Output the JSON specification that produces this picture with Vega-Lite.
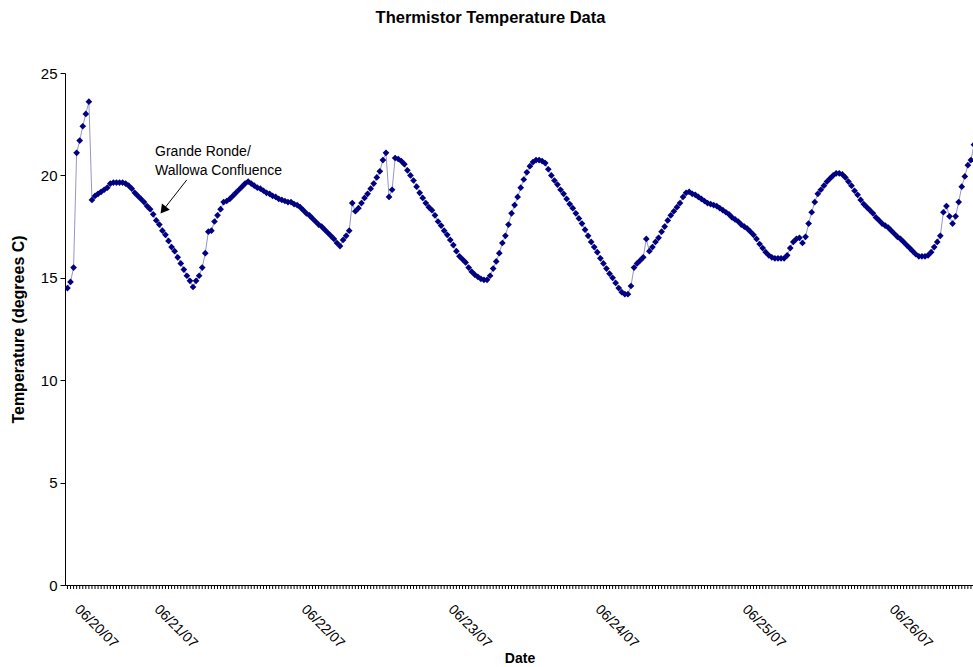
{
  "$schema": "https://vega.github.io/schema/vega-lite/v6.json",
  "width": 909,
  "height": 512,
  "autosize": {"type": "none"},
  "padding": {"left": 65, "top": 73, "right": 0, "bottom": 82},
  "background": "white",
  "config": {"view": {"stroke": null}, "font": "Liberation Sans"},
  "title": {"text": "Thermistor Temperature Data", "fontSize": 16.5, "fontWeight": "bold", "font": "Liberation Sans", "color": "black", "anchor": "middle", "dx": -29, "offset": 40},
  "datasets": {
    "temps": [
      {"t":"2007-06-20T11:00","v":14.5},{"t":"2007-06-20T11:30","v":14.8},{"t":"2007-06-20T12:00","v":15.5},{"t":"2007-06-20T12:30","v":21.1},{"t":"2007-06-20T13:00","v":21.7},{"t":"2007-06-20T13:30","v":22.4},{"t":"2007-06-20T14:00","v":23.0},{"t":"2007-06-20T14:30","v":23.6},{"t":"2007-06-20T15:00","v":18.8},{"t":"2007-06-20T15:30","v":19.0},{"t":"2007-06-20T16:00","v":19.1},{"t":"2007-06-20T16:30","v":19.2},{"t":"2007-06-20T17:00","v":19.3},{"t":"2007-06-20T17:30","v":19.4},{"t":"2007-06-20T18:00","v":19.6},{"t":"2007-06-20T18:30","v":19.65},{"t":"2007-06-20T19:00","v":19.65},{"t":"2007-06-20T19:30","v":19.65},{"t":"2007-06-20T20:00","v":19.65},{"t":"2007-06-20T20:30","v":19.6},{"t":"2007-06-20T21:00","v":19.5},{"t":"2007-06-20T21:30","v":19.35},{"t":"2007-06-20T22:00","v":19.15},{"t":"2007-06-20T22:30","v":19.0},{"t":"2007-06-20T23:00","v":18.85},{"t":"2007-06-20T23:30","v":18.7},
      {"t":"2007-06-21T00:00","v":18.5},{"t":"2007-06-21T00:30","v":18.35},{"t":"2007-06-21T01:00","v":18.1},{"t":"2007-06-21T01:30","v":17.8},{"t":"2007-06-21T02:00","v":17.6},{"t":"2007-06-21T02:30","v":17.3},{"t":"2007-06-21T03:00","v":17.1},{"t":"2007-06-21T03:30","v":16.8},{"t":"2007-06-21T04:00","v":16.5},{"t":"2007-06-21T04:30","v":16.3},{"t":"2007-06-21T05:00","v":16.0},{"t":"2007-06-21T05:30","v":15.7},{"t":"2007-06-21T06:00","v":15.4},{"t":"2007-06-21T06:30","v":15.1},{"t":"2007-06-21T07:00","v":14.85},{"t":"2007-06-21T07:30","v":14.55},{"t":"2007-06-21T08:00","v":14.85},{"t":"2007-06-21T08:30","v":15.1},{"t":"2007-06-21T09:00","v":15.5},{"t":"2007-06-21T09:30","v":16.2},{"t":"2007-06-21T10:00","v":17.25},{"t":"2007-06-21T10:30","v":17.3},{"t":"2007-06-21T11:00","v":17.75},{"t":"2007-06-21T11:30","v":18.05},{"t":"2007-06-21T12:00","v":18.35},{"t":"2007-06-21T12:30","v":18.7},{"t":"2007-06-21T13:00","v":18.75},{"t":"2007-06-21T13:30","v":18.85},{"t":"2007-06-21T14:00","v":19.0},{"t":"2007-06-21T14:30","v":19.15},{"t":"2007-06-21T15:00","v":19.3},{"t":"2007-06-21T15:30","v":19.45},{"t":"2007-06-21T16:00","v":19.6},{"t":"2007-06-21T16:30","v":19.7},{"t":"2007-06-21T17:00","v":19.6},{"t":"2007-06-21T17:30","v":19.5},{"t":"2007-06-21T18:00","v":19.4},{"t":"2007-06-21T18:30","v":19.35},{"t":"2007-06-21T19:00","v":19.25},{"t":"2007-06-21T19:30","v":19.15},{"t":"2007-06-21T20:00","v":19.1},{"t":"2007-06-21T20:30","v":19.0},{"t":"2007-06-21T21:00","v":18.95},{"t":"2007-06-21T21:30","v":18.85},{"t":"2007-06-21T22:00","v":18.8},{"t":"2007-06-21T22:30","v":18.75},{"t":"2007-06-21T23:00","v":18.7},{"t":"2007-06-21T23:30","v":18.7},
      {"t":"2007-06-22T00:00","v":18.6},{"t":"2007-06-22T00:30","v":18.55},{"t":"2007-06-22T01:00","v":18.45},{"t":"2007-06-22T01:30","v":18.3},{"t":"2007-06-22T02:00","v":18.15},{"t":"2007-06-22T02:30","v":18.05},{"t":"2007-06-22T03:00","v":17.9},{"t":"2007-06-22T03:30","v":17.75},{"t":"2007-06-22T04:00","v":17.6},{"t":"2007-06-22T04:30","v":17.5},{"t":"2007-06-22T05:00","v":17.35},{"t":"2007-06-22T05:30","v":17.2},{"t":"2007-06-22T06:00","v":17.05},{"t":"2007-06-22T06:30","v":16.9},{"t":"2007-06-22T07:00","v":16.7},{"t":"2007-06-22T07:30","v":16.55},{"t":"2007-06-22T08:00","v":16.85},{"t":"2007-06-22T08:30","v":17.05},{"t":"2007-06-22T09:00","v":17.3},{"t":"2007-06-22T09:30","v":18.65},{"t":"2007-06-22T10:00","v":18.25},{"t":"2007-06-22T10:30","v":18.4},{"t":"2007-06-22T11:00","v":18.65},{"t":"2007-06-22T11:30","v":18.9},{"t":"2007-06-22T12:00","v":19.1},{"t":"2007-06-22T12:30","v":19.35},{"t":"2007-06-22T13:00","v":19.6},{"t":"2007-06-22T13:30","v":19.9},{"t":"2007-06-22T14:00","v":20.2},{"t":"2007-06-22T14:30","v":20.75},{"t":"2007-06-22T15:00","v":21.1},{"t":"2007-06-22T15:30","v":18.95},{"t":"2007-06-22T16:00","v":19.3},{"t":"2007-06-22T16:30","v":20.85},{"t":"2007-06-22T17:00","v":20.8},{"t":"2007-06-22T17:30","v":20.7},{"t":"2007-06-22T18:00","v":20.55},{"t":"2007-06-22T18:30","v":20.25},{"t":"2007-06-22T19:00","v":20.0},{"t":"2007-06-22T19:30","v":19.75},{"t":"2007-06-22T20:00","v":19.45},{"t":"2007-06-22T20:30","v":19.15},{"t":"2007-06-22T21:00","v":18.9},{"t":"2007-06-22T21:30","v":18.65},{"t":"2007-06-22T22:00","v":18.45},{"t":"2007-06-22T22:30","v":18.3},{"t":"2007-06-22T23:00","v":18.05},{"t":"2007-06-22T23:30","v":17.75},
      {"t":"2007-06-23T00:00","v":17.55},{"t":"2007-06-23T00:30","v":17.3},{"t":"2007-06-23T01:00","v":17.1},{"t":"2007-06-23T01:30","v":16.85},{"t":"2007-06-23T02:00","v":16.6},{"t":"2007-06-23T02:30","v":16.3},{"t":"2007-06-23T03:00","v":16.05},{"t":"2007-06-23T03:30","v":15.9},{"t":"2007-06-23T04:00","v":15.75},{"t":"2007-06-23T04:30","v":15.5},{"t":"2007-06-23T05:00","v":15.3},{"t":"2007-06-23T05:30","v":15.15},{"t":"2007-06-23T06:00","v":15.05},{"t":"2007-06-23T06:30","v":14.95},{"t":"2007-06-23T07:00","v":14.9},{"t":"2007-06-23T07:30","v":14.9},{"t":"2007-06-23T08:00","v":15.1},{"t":"2007-06-23T08:30","v":15.45},{"t":"2007-06-23T09:00","v":15.8},{"t":"2007-06-23T09:30","v":16.2},{"t":"2007-06-23T10:00","v":16.7},{"t":"2007-06-23T10:30","v":17.05},{"t":"2007-06-23T11:00","v":17.6},{"t":"2007-06-23T11:30","v":18.15},{"t":"2007-06-23T12:00","v":18.55},{"t":"2007-06-23T12:30","v":18.95},{"t":"2007-06-23T13:00","v":19.4},{"t":"2007-06-23T13:30","v":19.8},{"t":"2007-06-23T14:00","v":20.15},{"t":"2007-06-23T14:30","v":20.45},{"t":"2007-06-23T15:00","v":20.65},{"t":"2007-06-23T15:30","v":20.75},{"t":"2007-06-23T16:00","v":20.75},{"t":"2007-06-23T16:30","v":20.7},{"t":"2007-06-23T17:00","v":20.6},{"t":"2007-06-23T17:30","v":20.3},{"t":"2007-06-23T18:00","v":20.0},{"t":"2007-06-23T18:30","v":19.75},{"t":"2007-06-23T19:00","v":19.55},{"t":"2007-06-23T19:30","v":19.3},{"t":"2007-06-23T20:00","v":19.1},{"t":"2007-06-23T20:30","v":18.85},{"t":"2007-06-23T21:00","v":18.6},{"t":"2007-06-23T21:30","v":18.4},{"t":"2007-06-23T22:00","v":18.15},{"t":"2007-06-23T22:30","v":17.9},{"t":"2007-06-23T23:00","v":17.65},{"t":"2007-06-23T23:30","v":17.35},
      {"t":"2007-06-24T00:00","v":17.05},{"t":"2007-06-24T00:30","v":16.75},{"t":"2007-06-24T01:00","v":16.5},{"t":"2007-06-24T01:30","v":16.25},{"t":"2007-06-24T02:00","v":15.95},{"t":"2007-06-24T02:30","v":15.7},{"t":"2007-06-24T03:00","v":15.45},{"t":"2007-06-24T03:30","v":15.2},{"t":"2007-06-24T04:00","v":15.0},{"t":"2007-06-24T04:30","v":14.75},{"t":"2007-06-24T05:00","v":14.5},{"t":"2007-06-24T05:30","v":14.3},{"t":"2007-06-24T06:00","v":14.2},{"t":"2007-06-24T06:30","v":14.2},{"t":"2007-06-24T07:00","v":14.6},{"t":"2007-06-24T07:30","v":15.5},{"t":"2007-06-24T08:00","v":15.7},{"t":"2007-06-24T08:30","v":15.85},{"t":"2007-06-24T09:00","v":16.0},{"t":"2007-06-24T09:30","v":16.9},{"t":"2007-06-24T10:00","v":16.3},{"t":"2007-06-24T10:30","v":16.5},{"t":"2007-06-24T11:00","v":16.75},{"t":"2007-06-24T11:30","v":16.95},{"t":"2007-06-24T12:00","v":17.25},{"t":"2007-06-24T12:30","v":17.5},{"t":"2007-06-24T13:00","v":17.8},{"t":"2007-06-24T13:30","v":18.05},{"t":"2007-06-24T14:00","v":18.25},{"t":"2007-06-24T14:30","v":18.45},{"t":"2007-06-24T15:00","v":18.65},{"t":"2007-06-24T15:30","v":18.95},{"t":"2007-06-24T16:00","v":19.15},{"t":"2007-06-24T16:30","v":19.2},{"t":"2007-06-24T17:00","v":19.1},{"t":"2007-06-24T17:30","v":19.05},{"t":"2007-06-24T18:00","v":18.95},{"t":"2007-06-24T18:30","v":18.85},{"t":"2007-06-24T19:00","v":18.75},{"t":"2007-06-24T19:30","v":18.65},{"t":"2007-06-24T20:00","v":18.6},{"t":"2007-06-24T20:30","v":18.55},{"t":"2007-06-24T21:00","v":18.5},{"t":"2007-06-24T21:30","v":18.4},{"t":"2007-06-24T22:00","v":18.3},{"t":"2007-06-24T22:30","v":18.2},{"t":"2007-06-24T23:00","v":18.1},{"t":"2007-06-24T23:30","v":17.95},
      {"t":"2007-06-25T00:00","v":17.85},{"t":"2007-06-25T00:30","v":17.75},{"t":"2007-06-25T01:00","v":17.6},{"t":"2007-06-25T01:30","v":17.5},{"t":"2007-06-25T02:00","v":17.4},{"t":"2007-06-25T02:30","v":17.25},{"t":"2007-06-25T03:00","v":17.1},{"t":"2007-06-25T03:30","v":16.9},{"t":"2007-06-25T04:00","v":16.65},{"t":"2007-06-25T04:30","v":16.45},{"t":"2007-06-25T05:00","v":16.25},{"t":"2007-06-25T05:30","v":16.1},{"t":"2007-06-25T06:00","v":16.0},{"t":"2007-06-25T06:30","v":15.95},{"t":"2007-06-25T07:00","v":15.95},{"t":"2007-06-25T07:30","v":15.95},{"t":"2007-06-25T08:00","v":15.95},{"t":"2007-06-25T08:30","v":16.1},{"t":"2007-06-25T09:00","v":16.45},{"t":"2007-06-25T09:30","v":16.75},{"t":"2007-06-25T10:00","v":16.9},{"t":"2007-06-25T10:30","v":16.95},{"t":"2007-06-25T11:00","v":16.7},{"t":"2007-06-25T11:30","v":17.0},{"t":"2007-06-25T12:00","v":17.65},{"t":"2007-06-25T12:30","v":18.2},{"t":"2007-06-25T13:00","v":18.7},{"t":"2007-06-25T13:30","v":19.1},{"t":"2007-06-25T14:00","v":19.3},{"t":"2007-06-25T14:30","v":19.5},{"t":"2007-06-25T15:00","v":19.7},{"t":"2007-06-25T15:30","v":19.85},{"t":"2007-06-25T16:00","v":20.0},{"t":"2007-06-25T16:30","v":20.1},{"t":"2007-06-25T17:00","v":20.1},{"t":"2007-06-25T17:30","v":20.05},{"t":"2007-06-25T18:00","v":19.9},{"t":"2007-06-25T18:30","v":19.7},{"t":"2007-06-25T19:00","v":19.5},{"t":"2007-06-25T19:30","v":19.25},{"t":"2007-06-25T20:00","v":19.05},{"t":"2007-06-25T20:30","v":18.8},{"t":"2007-06-25T21:00","v":18.6},{"t":"2007-06-25T21:30","v":18.45},{"t":"2007-06-25T22:00","v":18.3},{"t":"2007-06-25T22:30","v":18.15},{"t":"2007-06-25T23:00","v":17.95},{"t":"2007-06-25T23:30","v":17.8},
      {"t":"2007-06-26T00:00","v":17.65},{"t":"2007-06-26T00:30","v":17.55},{"t":"2007-06-26T01:00","v":17.45},{"t":"2007-06-26T01:30","v":17.3},{"t":"2007-06-26T02:00","v":17.15},{"t":"2007-06-26T02:30","v":17.0},{"t":"2007-06-26T03:00","v":16.9},{"t":"2007-06-26T03:30","v":16.75},{"t":"2007-06-26T04:00","v":16.6},{"t":"2007-06-26T04:30","v":16.45},{"t":"2007-06-26T05:00","v":16.3},{"t":"2007-06-26T05:30","v":16.15},{"t":"2007-06-26T06:00","v":16.05},{"t":"2007-06-26T06:30","v":16.05},{"t":"2007-06-26T07:00","v":16.05},{"t":"2007-06-26T07:30","v":16.1},{"t":"2007-06-26T08:00","v":16.25},{"t":"2007-06-26T08:30","v":16.5},{"t":"2007-06-26T09:00","v":16.75},{"t":"2007-06-26T09:30","v":17.05},{"t":"2007-06-26T10:00","v":18.2},{"t":"2007-06-26T10:30","v":18.5},{"t":"2007-06-26T11:00","v":18.0},{"t":"2007-06-26T11:30","v":17.65},{"t":"2007-06-26T12:00","v":18.0},{"t":"2007-06-26T12:30","v":18.7},{"t":"2007-06-26T13:00","v":19.45},{"t":"2007-06-26T13:30","v":19.95},{"t":"2007-06-26T14:00","v":20.5},{"t":"2007-06-26T14:30","v":20.75},{"t":"2007-06-26T15:00","v":21.5}
    ],
    "notes": [
      {"t":"2007-06-21T01:18","v":20.95,"label":"Grande Ronde/"},
      {"t":"2007-06-21T01:18","v":20.02,"label":"Wallowa Confluence"}
    ],
    "arrow": [
      {"t":"2007-06-21T06:29","v":19.78,"t2":"2007-06-21T02:38","v2":18.31}
    ]
  },
  "layer": [
    {
      "data": {"name": "temps"},
      "mark": {"type": "line", "color": "#000080", "strokeWidth": 0.7, "opacity": 0.6, "clip": true},
      "encoding": {
        "x": {
          "field": "t", "type": "temporal",
          "scale": {"domain": [{"year": 2007, "month": 6, "date": 20, "hours": 10, "minutes": 36}, {"year": 2007, "month": 6, "date": 26, "hours": 15}]},
          "axis": {
            "title": "Date", "titleFontSize": 14, "titleFontWeight": "bold", "titleColor": "black", "titlePadding": 1,
            "values": [
              {"year": 2007, "month": 6, "date": 20, "hours": 11},
              {"year": 2007, "month": 6, "date": 21},
              {"year": 2007, "month": 6, "date": 22},
              {"year": 2007, "month": 6, "date": 23},
              {"year": 2007, "month": 6, "date": 24},
              {"year": 2007, "month": 6, "date": 25},
              {"year": 2007, "month": 6, "date": 26}
            ],
            "format": "%m/%d/%y", "labelOverlap": false,
            "labelAngle": 45, "labelAlign": "left", "labelBaseline": "middle",
            "labelFontSize": 14, "labelColor": "black", "labelOffset": 9, "labelPadding": 18,
            "tickSize": 4, "tickOpacity": 0, "domainColor": "black", "grid": false
          }
        },
        "y": {
          "field": "v", "type": "quantitative",
          "scale": {"domain": [0, 25], "nice": false},
          "axis": {
            "title": "Temperature (degrees C)", "titleFontSize": 16, "titleFontWeight": "bold", "titleColor": "black", "titlePadding": 14,
            "values": [0, 5, 10, 15, 20, 25], "labelFontSize": 15, "labelColor": "black", "labelPadding": 3,
            "tickSize": 5, "tickColor": "black", "domainColor": "black", "grid": false
          }
        }
      }
    },
    {
      "data": {"name": "temps"},
      "mark": {"type": "tick", "orient": "vertical", "size": 4, "thickness": 1, "color": "black", "yOffset": 2, "opacity": 1},
      "encoding": {
        "x": {"field": "t", "type": "temporal"},
        "y": {"datum": 0}
      }
    },
    {
      "data": {"name": "temps"},
      "mark": {"type": "point", "shape": "diamond", "filled": true, "color": "#000080", "size": 45, "opacity": 1, "clip": true},
      "encoding": {
        "x": {"field": "t", "type": "temporal"},
        "y": {"field": "v", "type": "quantitative"}
      }
    },
    {
      "data": {"name": "notes"},
      "mark": {"type": "text", "align": "left", "baseline": "alphabetic", "fontSize": 14, "color": "black"},
      "encoding": {
        "x": {"field": "t", "type": "temporal"},
        "y": {"field": "v", "type": "quantitative"},
        "text": {"field": "label"}
      }
    },
    {
      "data": {"name": "arrow"},
      "mark": {"type": "rule", "color": "black", "strokeWidth": 1},
      "encoding": {
        "x": {"field": "t", "type": "temporal"},
        "y": {"field": "v", "type": "quantitative"},
        "x2": {"field": "t2"},
        "y2": {"field": "v2"}
      }
    },
    {
      "data": {"name": "arrow"},
      "mark": {"type": "point", "shape": "triangle-up", "filled": true, "color": "black", "size": 100, "angle": 218, "opacity": 1},
      "encoding": {
        "x": {"field": "t2", "type": "temporal"},
        "y": {"field": "v2", "type": "quantitative"}
      }
    }
  ]
}
